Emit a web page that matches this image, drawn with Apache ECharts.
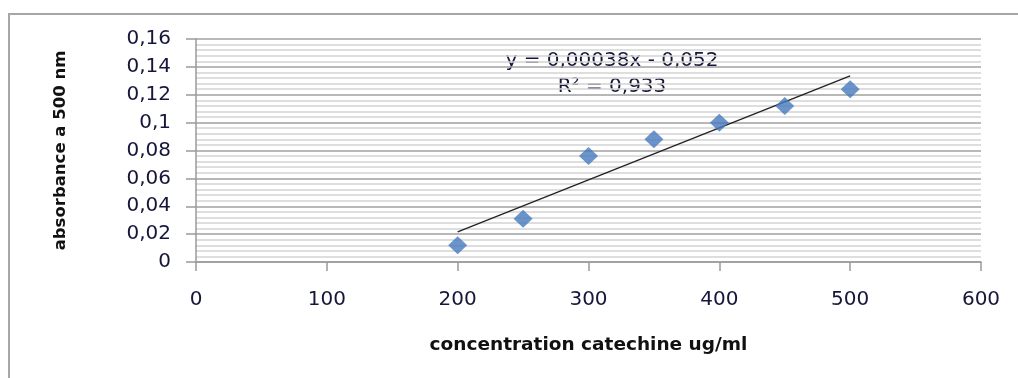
<!DOCTYPE html>
<html>
<head>
<meta charset="utf-8">
<script src="https://cdn.jsdelivr.net/npm/echarts@6/dist/echarts.min.js"></script>
<style>
  html, body { margin: 0; padding: 0; background: #fff; }
  #chart { width: 1018px; height: 378px; }
</style>
</head>
<body>
<div id="chart"></div>
<script>
// Catechine calibration: absorbance at 500 nm vs concentration
const concentrations = [200, 250, 300, 350, 400, 450, 500];
const absorbances = [0.012, 0.031, 0.076, 0.088, 0.100, 0.112, 0.124];
const equationText = 'y = 0,00038x - 0,052';
const r2Text = 'R\u00B2 = 0,933';
const xTitle = 'concentration catechine ug/ml';
const yTitle = 'absorbance a 500 nm';

// Least-squares linear fit of the measured points
function linearFit(xs, ys) {
  const n = xs.length;
  const mx = xs.reduce((a, b) => a + b, 0) / n;
  const my = ys.reduce((a, b) => a + b, 0) / n;
  let sxy = 0, sxx = 0;
  for (let i = 0; i < n; i++) {
    sxy += (xs[i] - mx) * (ys[i] - my);
    sxx += (xs[i] - mx) * (xs[i] - mx);
  }
  const slope = sxy / sxx;
  return { slope, intercept: my - slope * mx };
}
const fit = linearFit(concentrations, absorbances);
const xFirst = concentrations[0];
const xLast = concentrations[concentrations.length - 1];
const trendData = [
  [xFirst, fit.slope * xFirst + fit.intercept],
  [xLast, fit.slope * xLast + fit.intercept]
];

const points = concentrations.map((c, i) => [c, absorbances[i]]);
const fmt = v => String(v).replace('.', ',');
const FONT = '"DejaVu Sans", sans-serif';
const TEXT = '#16163a';

const chart = echarts.init(document.getElementById('chart'), null, { renderer: 'canvas' });
chart.setOption({
  animation: false,
  backgroundColor: '#ffffff',
  grid: { left: 196, right: 37, top: 39, bottom: 116, containLabel: false },
  xAxis: {
    type: 'value',
    min: 0, max: 600, interval: 100,
    name: xTitle,
    nameLocation: 'middle',
    nameGap: 74,
    nameTextStyle: { fontFamily: FONT, fontSize: 18.5, fontWeight: 'bold', color: '#111' },
    axisLine: { show: true, lineStyle: { color: '#9a9a9a', width: 1.5 } },
    axisTick: { show: true, length: 9, lineStyle: { color: '#9a9a9a', width: 1.5 } },
    axisLabel: { margin: 28, fontFamily: FONT, fontSize: 20, color: TEXT },
    splitLine: { show: false }
  },
  yAxis: {
    type: 'value',
    min: 0, max: 0.16, interval: 0.02,
    name: yTitle,
    nameLocation: 'middle',
    nameGap: 127,
    nameRotate: 90,
    nameTextStyle: { fontFamily: FONT, fontSize: 16.5, fontWeight: 'bold', color: '#111' },
    axisLine: { show: true, lineStyle: { color: '#9a9a9a', width: 1.5 } },
    axisTick: { show: true, length: 10, lineStyle: { color: '#9a9a9a', width: 1.5 } },
    axisLabel: { margin: 25, fontFamily: FONT, fontSize: 20, color: TEXT, formatter: fmt },
    splitLine: { show: true, lineStyle: { color: '#a0a0a0', width: 1.5 } },
    minorTick: { show: false, splitNumber: 5 },
    minorSplitLine: { show: true, lineStyle: { color: '#d4d4d4', width: 1.5 } }
  },
  series: [
    {
      type: 'line',
      data: trendData,
      showSymbol: false,
      symbol: 'none',
      lineStyle: { color: '#222', width: 1.3 },
      z: 3,
      silent: true
    },
    {
      type: 'scatter',
      data: points,
      symbol: 'diamond',
      symbolSize: [19, 18],
      itemStyle: { color: '#4679bd' },
      z: 4
    }
  ],
  graphic: [
    {
      type: 'rect',
      shape: { x: 9, y: 14, width: 1100, height: 500 },
      style: { fill: 'none', stroke: '#a6a6a6', lineWidth: 2 },
      silent: true
    },
    {
      type: 'text',
      x: 612, y: 61,
      style: { text: equationText, fontFamily: FONT, fontSize: 20, fill: TEXT, align: 'center', verticalAlign: 'middle' }
    },
    {
      type: 'text',
      x: 612, y: 87,
      style: { text: r2Text, fontFamily: FONT, fontSize: 20, fill: TEXT, align: 'center', verticalAlign: 'middle' }
    }
  ]
});
</script>
</body>
</html>
